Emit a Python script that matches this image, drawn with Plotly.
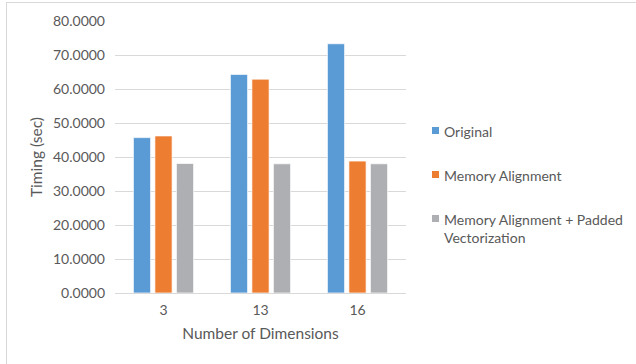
import plotly.graph_objects as go

# Benchmark timings (seconds) per number of dimensions
dimensions = ["3", "13", "16"]
original = [45.7, 64.3, 73.3]
memory_alignment = [46.2, 62.9, 38.8]
padded_vectorization = [38.1, 38.0, 38.0]

series_names = ["Original", "Memory Alignment", "Memory Alignment + Padded<br>Vectorization"]
series_colors = ["#5B9BD5", "#ED7D31", "#AEAFB2"]

W, H = 636, 364
L, R, T, B = 115, 230, 21, 71
PW, PH = W - L - R, H - T - B


def px(x):
    return (x - L) / PW


def py(y):
    return 1 - (y - T) / PH


FONT = "Lato, 'Open Sans', sans-serif"
TXT = "#595959"

fig = go.Figure()
for name, vals, col in zip(series_names, [original, memory_alignment, padded_vectorization], series_colors):
    fig.add_trace(go.Bar(
        x=dimensions, y=vals, name=name,
        marker=dict(color=col, line=dict(color="rgba(255,255,255,0.7)", width=1)),
        showlegend=False,
    ))

shapes = [
    # chart frame (top and left edges)
    dict(type="line", xref="paper", yref="paper", x0=px(6), x1=px(640), y0=py(2.5), y1=py(2.5),
         line=dict(color="#D9D9D9", width=1)),
    dict(type="line", xref="paper", yref="paper", x0=px(6.5), x1=px(6.5), y0=py(2.5), y1=py(370),
         line=dict(color="#D9D9D9", width=1)),
]
annotations = []
legend_rows = [130.5, 174.5, 218.5]
for name, col, yc in zip(series_names, series_colors, legend_rows):
    shapes.append(dict(type="rect", xref="paper", yref="paper",
                       x0=px(432), x1=px(439), y0=py(yc - 3.5), y1=py(yc + 3.5),
                       fillcolor=col, line=dict(width=0)))
    annotations.append(dict(xref="paper", yref="paper", x=px(442), y=py(yc - 9.5),
                            xanchor="left", yanchor="top", align="left", showarrow=False,
                            text=name, font=dict(family=FONT, size=14, color=TXT)))

fig.update_layout(
    width=W, height=H,
    margin=dict(l=L, r=R, t=T, b=B, autoexpand=False),
    paper_bgcolor="white", plot_bgcolor="white",
    barmode="group", bargap=0.335, bargroupgap=0.2,
    font=dict(family=FONT, color=TXT, size=14),
    shapes=shapes, annotations=annotations,
    xaxis=dict(
        type="category", showgrid=False, zeroline=False, showline=False,
        ticks="", ticklabelstandoff=7, tickfont=dict(size=14, color=TXT),
        title=dict(text="Number of Dimensions", font=dict(size=15.5, color=TXT), standoff=11),
        automargin=False,
    ),
    yaxis=dict(
        range=[0, 80], dtick=10, tickformat=".4f",
        showgrid=True, gridcolor="#D9D9D9", gridwidth=1,
        zeroline=True, zerolinecolor="#D9D9D9", zerolinewidth=1,
        showline=False, ticks="", ticklabelstandoff=9,
        tickfont=dict(size=14, color=TXT),
        title=dict(text="Timing (sec)", font=dict(size=15.5, color=TXT), standoff=6),
        automargin=False,
    ),
)

fig.write_html("out.html")
